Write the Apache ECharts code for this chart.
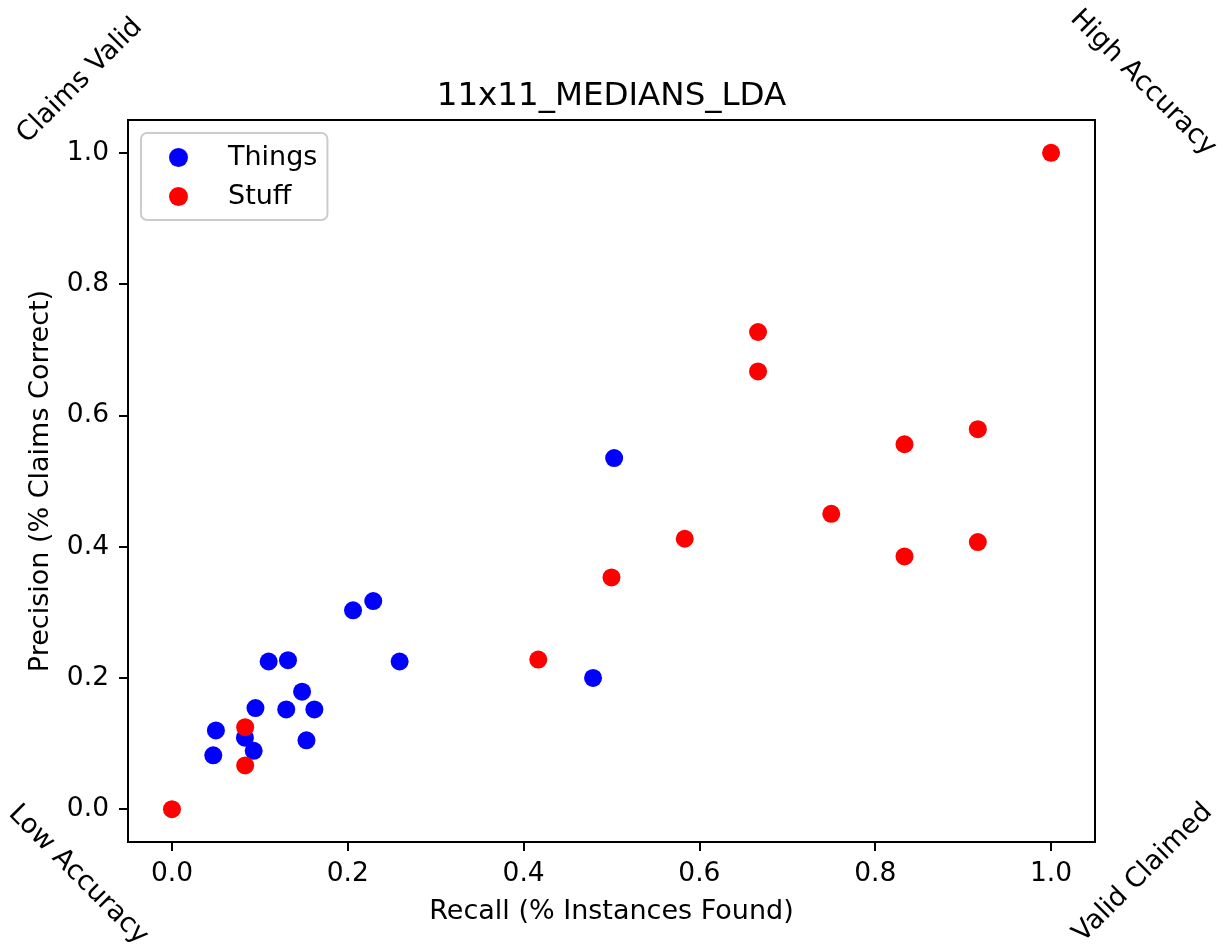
<!DOCTYPE html>
<html>
<head>
<meta charset="utf-8">
<title>11x11_MEDIANS_LDA</title>
<script src="https://cdn.jsdelivr.net/npm/echarts@6/dist/echarts.min.js"></script>
<style>
  html, body { margin: 0; padding: 0; background: #ffffff; }
  #chart { width: 1223px; height: 948px; }
</style>
</head>
<body>
<div id="chart"></div>
<script>
// Recall / precision pairs for each class group
const thingsRecall = [0.110, 0.132, 0.259, 0.148, 0.095, 0.130, 0.162, 0.050, 0.083, 0.093, 0.047, 0.153, 0.206, 0.229, 0.479, 0.503];
const thingsPrecision = [0.225, 0.227, 0.225, 0.179, 0.154, 0.152, 0.152, 0.120, 0.109, 0.089, 0.082, 0.105, 0.303, 0.317, 0.200, 0.535];

const stuffRecall = [0.0833, 0.0833, 0.0, 0.4167, 0.5, 0.5833, 0.6667, 0.6667, 0.75, 0.8333, 0.8333, 0.9167, 0.9167, 1.0];
const stuffPrecision = [0.125, 0.0667, 0.0, 0.228, 0.353, 0.412, 0.727, 0.667, 0.450, 0.556, 0.385, 0.579, 0.407, 1.0];

const tickValues = [0.0, 0.2, 0.4, 0.6, 0.8, 1.0];

const FONT = 'DejaVu Sans';

function pairs(xs, ys) {
  return xs.map((x, i) => [x, ys[i]]);
}

const chart = echarts.init(document.getElementById('chart'), null, { renderer: 'canvas' });

const axisCommon = {
  type: 'value',
  min: -0.05,
  max: 1.05,
  splitLine: { show: false },
  axisLine: { show: true, onZero: false, lineStyle: { color: '#000', width: 2 } },
  axisTick: { show: true, customValues: tickValues, length: 9, lineStyle: { color: '#000', width: 2 } },
  axisLabel: {
    customValues: tickValues,
    formatter: v => v.toFixed(1),
    color: '#000',
    fontFamily: FONT,
    fontSize: 26.5
  },
  nameLocation: 'middle',
  nameTextStyle: { color: '#000', fontFamily: FONT, fontSize: 27 }
};

const cornerText = (text, x, y, rot) => ({
  type: 'text',
  x: x, y: y,
  rotation: rot,
  style: {
    text: text,
    fill: '#000',
    font: '27px "DejaVu Sans"',
    textAlign: 'center',
    textVerticalAlign: 'middle'
  }
});

chart.setOption({
  backgroundColor: '#ffffff',
  animation: false,
  title: {
    text: '11x11_MEDIANS_LDA',
    left: 'center',
    top: 75,
    textStyle: { color: '#000', fontFamily: FONT, fontSize: 32.5, fontWeight: 'normal' }
  },
  grid: {
    left: 128, right: 128, top: 120, bottom: 106,
    show: true,
    borderColor: '#000',
    borderWidth: 2,
    backgroundColor: 'transparent'
  },
  legend: {
    orient: 'vertical',
    left: 141,
    top: 133,
    padding: [11, 10, 10, 28],
    itemWidth: 19,
    itemHeight: 19,
    itemGap: 12,
    icon: 'circle',
    backgroundColor: 'rgba(255,255,255,0.8)',
    borderColor: '#cccccc',
    borderWidth: 2,
    borderRadius: 6,
    textStyle: { color: '#000', fontFamily: FONT, fontSize: 27, padding: [0, 0, 0, 35] },
    data: ['Things', 'Stuff']
  },
  xAxis: Object.assign({}, axisCommon, {
    name: 'Recall (% Instances Found)',
    nameGap: 56,
    axisLabel: Object.assign({}, axisCommon.axisLabel, { margin: 19 })
  }),
  yAxis: Object.assign({}, axisCommon, {
    name: 'Precision (% Claims Correct)',
    nameGap: 74,
    axisLabel: Object.assign({}, axisCommon.axisLabel, { margin: 19 })
  }),
  series: [
    {
      name: 'Things',
      type: 'scatter',
      symbol: 'circle',
      symbolSize: 18,
      itemStyle: { color: '#0000ff', opacity: 1 },
      data: pairs(thingsRecall, thingsPrecision)
    },
    {
      name: 'Stuff',
      type: 'scatter',
      symbol: 'circle',
      symbolSize: 18,
      itemStyle: { color: '#ff0000', opacity: 1 },
      data: pairs(stuffRecall, stuffPrecision)
    }
  ],
  graphic: [
    cornerText('Claims Valid', 80, 81, Math.PI / 4),
    cornerText('High Accuracy', 1143, 83, -Math.PI / 4),
    cornerText('Low Accuracy', 78, 875, -Math.PI / 4),
    cornerText('Valid Claimed', 1143, 873, Math.PI / 4)
  ]
});
</script>
</body>
</html>
